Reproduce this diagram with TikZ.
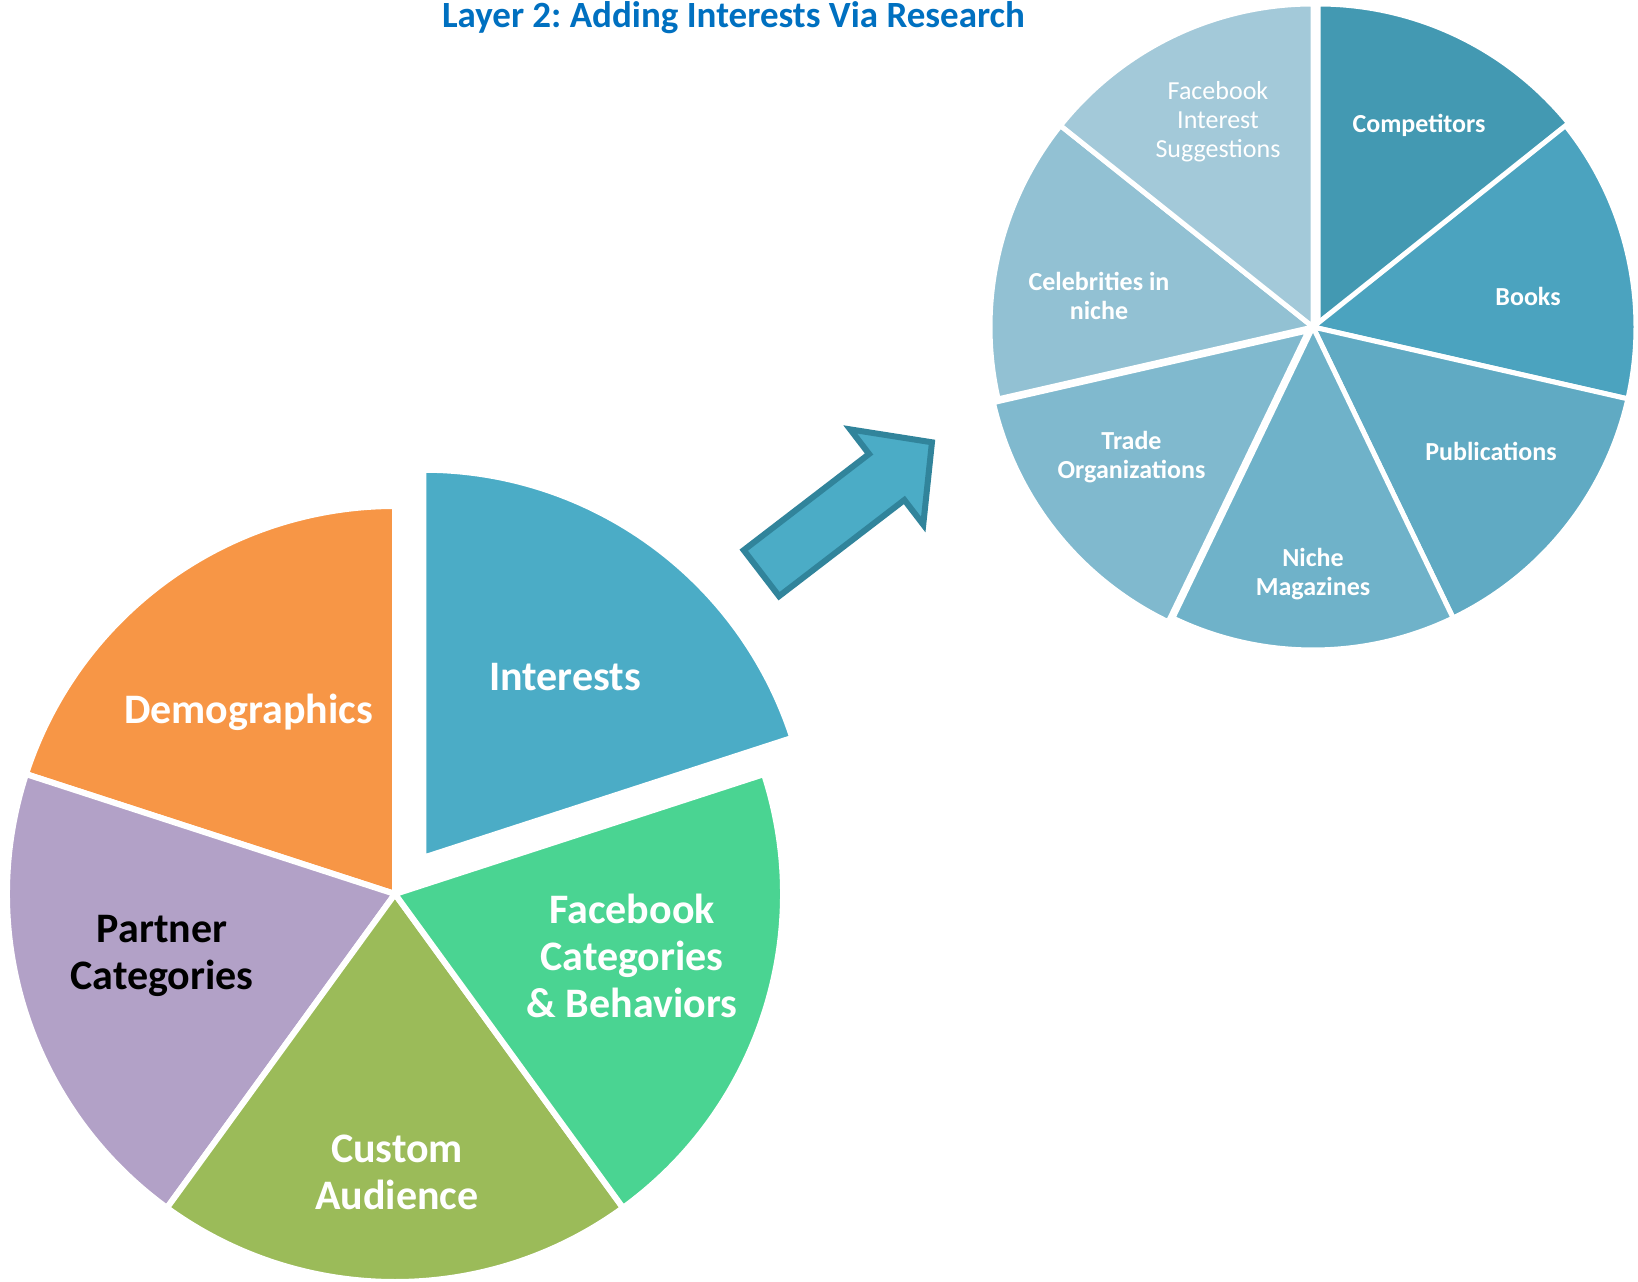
\documentclass[tikz,border=0pt]{standalone}
\usepackage{fontspec}
\setmainfont{Carlito}
\usetikzlibrary{calc}
\frenchspacing
\definecolor{cDemo}{HTML}{F79646}
\definecolor{cPart}{HTML}{B2A1C7}
\definecolor{cCust}{HTML}{9BBB59}
\definecolor{cFbCat}{HTML}{4AD492}
\definecolor{cInt}{HTML}{4BACC6}
\definecolor{cArrowLine}{HTML}{31849B}
\definecolor{cTitle}{HTML}{0070C0}
\definecolor{sComp}{HTML}{4399B2}
\definecolor{sBook}{HTML}{4BA3BF}
\definecolor{sPub}{HTML}{60AAC3}
\definecolor{sNiche}{HTML}{6FB2C9}
\definecolor{sTrade}{HTML}{80B9CE}
\definecolor{sCeleb}{HTML}{92C1D3}
\definecolor{sFbInt}{HTML}{A3C9D9}
\begin{document}
\frenchspacing
\begin{tikzpicture}[x=0.5pt,y=0.5pt,
  bigslice/.style={draw=white, line width=3pt},
  smallslice/.style={draw=white, line width=2.5pt},
  biglabel/.style={font=\fontsize{21pt}{23.5pt}\selectfont\bfseries, text=white, align=center, inner sep=0pt},
  smalllabel/.style={font=\fontsize{13pt}{14.5pt}\selectfont\bfseries, text=white, align=center, inner sep=0pt},
  arrowshape/.style={fill=cInt, draw=cArrowLine, line width=3pt, line join=miter}
]
\fill[white] (0,0) rectangle (1638,1281);
\useasboundingbox (0,0) rectangle (1638,1281);

% ---------- big pie ----------
\coordinate (bc) at (395,387);
\filldraw[bigslice, fill=cDemo] (bc) -- ++(90:194pt) arc[start angle=90, end angle=162, radius=194pt] -- cycle;
\filldraw[bigslice, fill=cPart] (bc) -- ++(162:194pt) arc[start angle=162, end angle=234, radius=194pt] -- cycle;
\filldraw[bigslice, fill=cCust] (bc) -- ++(234:194pt) arc[start angle=234, end angle=306, radius=194pt] -- cycle;
\filldraw[bigslice, fill=cFbCat] (bc) -- ++(306:194pt) arc[start angle=306, end angle=378, radius=194pt] -- cycle;
\coordinate (ic) at ($(bc)+(52:23pt)$);
\filldraw[bigslice, fill=cInt] (ic) -- ++(18:194pt) arc[start angle=18, end angle=90, radius=194pt] -- cycle;

\node[biglabel] (demo) at (248.6,568.6) {Demographics};
\node[biglabel] (inter) at (565,604) {Interests};
\node[biglabel, text=black] (part) at (162,325) {Partner\\Categories};
\node[biglabel] (cust) at (397,108.4) {Custom\\Audience};
\node[biglabel] (fbcat) at (632,325) {Facebook\\Categories\\\& Behaviors};

% ---------- arrow ----------
\filldraw[arrowshape, shift={(759,706)}, rotate=37.5]
  (3,-29) -- (161,-29) -- (161,-60) -- (218,0) -- (161,60) -- (161,29) -- (3,29) -- cycle;

% ---------- small pie ----------
\coordinate (sc) at (1313,954);
\coordinate (scComp) at ($(sc)+(2.5pt,0pt)$);
\coordinate (scTrade) at ($(sc)+(-141.43:3pt)$);
\filldraw[smallslice, fill=sComp] (scComp) -- ++(38.57:161.5pt) arc[start angle=38.57, end angle=90, radius=161.5pt] -- cycle;
\filldraw[smallslice, fill=sBook] (sc) -- ++(-12.86:161.5pt) arc[start angle=-12.86, end angle=38.57, radius=161.5pt] -- cycle;
\filldraw[smallslice, fill=sPub] (sc) -- ++(-64.29:161.5pt) arc[start angle=-64.29, end angle=-12.86, radius=161.5pt] -- cycle;
\filldraw[smallslice, fill=sNiche] (sc) -- ++(-115.71:161.5pt) arc[start angle=-115.71, end angle=-64.29, radius=161.5pt] -- cycle;
\filldraw[smallslice, fill=sTrade] (scTrade) -- ++(-167.14:161.5pt) arc[start angle=-167.14, end angle=-115.71, radius=161.5pt] -- cycle;
\filldraw[smallslice, fill=sCeleb] (sc) -- ++(141.43:161.5pt) arc[start angle=141.43, end angle=192.86, radius=161.5pt] -- cycle;
\filldraw[smallslice, fill=sFbInt] (sc) -- ++(90:161.5pt) arc[start angle=90, end angle=141.43, radius=161.5pt] -- cycle;

\node[smalllabel, font=\fontsize{13pt}{14.5pt}\selectfont] (fbint) at (1218,1159.5) {Facebook\\Interest\\Suggestions};
\node[smalllabel] (comp) at (1419,1156) {Competitors};
\node[smalllabel] (books) at (1528,985) {Books};
\node[smalllabel] (pub) at (1491,829.4) {Publications};
\node[smalllabel] (niche) at (1313,707) {Niche\\Magazines};
\node[smalllabel] (trade) at (1131.5,824) {Trade\\Organizations};
\node[smalllabel] (celeb) at (1099,985.3) {Celebrities in\\niche};

% ---------- title ----------
\node[font=\fontsize{18.5pt}{22pt}\selectfont\bfseries, text=cTitle, anchor=base, inner sep=0pt] (title) at (733.5,1253) {Layer 2: Adding Interests Via Research};
\end{tikzpicture}
\end{document}
